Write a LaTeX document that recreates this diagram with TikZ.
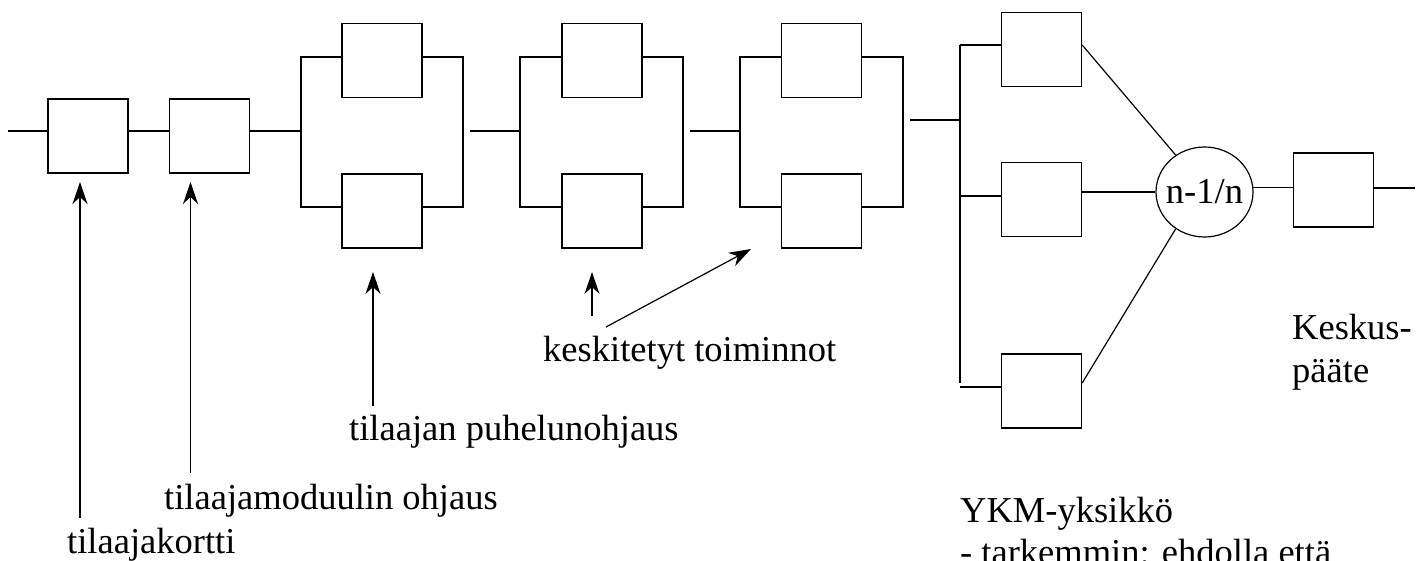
\documentclass[tikz,border=0pt]{standalone}
\usepackage{fontspec}
\setmainfont{Liberation Serif}
\usetikzlibrary{arrows.meta,shapes.geometric}
\begin{document}
\begin{tikzpicture}[x=1pt,y=-1pt,
  blk/.style={draw,line width=1.4pt,minimum width=80pt,minimum height=74pt,inner sep=0pt},
  wire/.style={line width=1.4pt},
  thinwire/.style={line width=1.2pt},
  lbl/.style={anchor=base west,inner sep=0pt,font=\fontsize{36.5}{42}\selectfont},
  pointer/.style={line width=1.2pt,-{Stealth[length=22pt,width=15pt,inset=7pt]}}]
\useasboundingbox (0,0) rectangle (1425,561);
\clip (0,0) rectangle (1425,561);
\fill[white] (0,0) rectangle (1425,561);

% series boxes
\node[blk] (b1) at (88,136) {};
\node[blk] (b2) at (209.5,136) {};
% parallel blocks
\node[blk] (p1a) at (382,60.5) {};
\node[blk] (p1b) at (382,211) {};
\node[blk] (p2a) at (602,60.5) {};
\node[blk] (p2b) at (602,211) {};
\node[blk] (p3a) at (821.5,60.5) {};
\node[blk] (p3b) at (821.5,211) {};
% YKM
\node[blk] (y1) at (1041.5,49.5) {};
\node[blk] (y2) at (1041.5,199.5) {};
\node[blk] (y3) at (1041.5,391) {};
\node[draw,ellipse,line width=1.2pt,minimum width=97pt,minimum height=90pt,inner sep=0pt,
  label={[font=\fontsize{36.5}{42}\selectfont,inner sep=0pt]center:n-1/n}] (ell) at (1204.5,192) {};
\node[blk] (kp) at (1333.5,190) {};

% main line
\coordinate (in0) at (8,131);
\draw[wire] (in0) -- (in0 -| b1.west);
\draw[wire] (b1.east |- in0) -- (b2.west |- in0);
\draw[wire] (b2.east |- in0) -- (301,131);

% parallel block rails
\draw[wire] (p1a.west |- 0,57) -| (301,207) -- (p1b.west |- 0,207);
\draw[wire] (p1a.east |- 0,57) -| (463,207) -- (p1b.east |- 0,207);
\draw[wire] (470,131) -- (520,131);
\draw[wire] (p2a.west |- 0,57) -| (520,207) -- (p2b.west |- 0,207);
\draw[wire] (p2a.east |- 0,57) -| (683,207) -- (p2b.east |- 0,207);
\draw[wire] (690,131) -- (740,131);
\draw[wire] (p3a.west |- 0,57) -| (740,207) -- (p3b.west |- 0,207);
\draw[wire] (p3a.east |- 0,57) -| (903,207) -- (p3b.east |- 0,207);
\draw[wire] (910,120) -- (960,120);

% YKM rails
\draw[thinwire] (960,45) -- (960,383);
\draw[thinwire] (960,45) -- (y1.west |- 0,45);
\draw[thinwire] (960,196) -- (y2.west |- 0,196);
\draw[thinwire] (960,387) -- (y3.west |- 0,387);
\draw[thinwire] (y1.east |- 0,45) -- (ell.128);
\draw[thinwire] (y2.east |- 0,192) -- (ell.west);
\draw[thinwire] (y3.east |- 0,383) -- (ell.232);
\draw[thinwire] (ell.5) -- (kp.west |- ell.5);
\coordinate (out0) at (1415,188);
\draw[thinwire] (kp.east |- out0) -- (out0);

% pointer arrows
\coordinate (a1s) at (80,518);  \coordinate (a1e) at (80,182);
\coordinate (a2s) at (190.5,473); \coordinate (a2e) at (190.5,182);
\coordinate (a3s) at (373,406); \coordinate (a3e) at (373,272);
\coordinate (a4s) at (592,316); \coordinate (a4e) at (592,272);
\coordinate (a5s) at (606,327); \coordinate (a5e) at (751,249);
\draw[pointer] (a1s) -- (a1e);
\draw[pointer] (a2s) -- (a2e);
\draw[pointer] (a3s) -- (a3e);
\draw[pointer] (a4s) -- (a4e);
\draw[pointer] (a5s) -- (a5e);

% labels
\node[lbl] (t1) at (67,553) {tilaajakortti};
\node[lbl] (t2) at (164,509) {tilaajamoduulin ohjaus};
\node[lbl] (t3) at (349,440) {tilaajan puhelunohjaus};
\node[lbl] (t4) at (543,362) {keskitetyt toiminnot};
\node[lbl] (t5) at (1292,340) {Keskus-};
\node[lbl] (t6) at (1292,382) {pääte};
\node[lbl] (t7) at (960,522) {YKM-yksikkö};
\node[lbl] (t8) at (960,564) {- tarkemmin: ehdolla että};
\end{tikzpicture}
\end{document}
